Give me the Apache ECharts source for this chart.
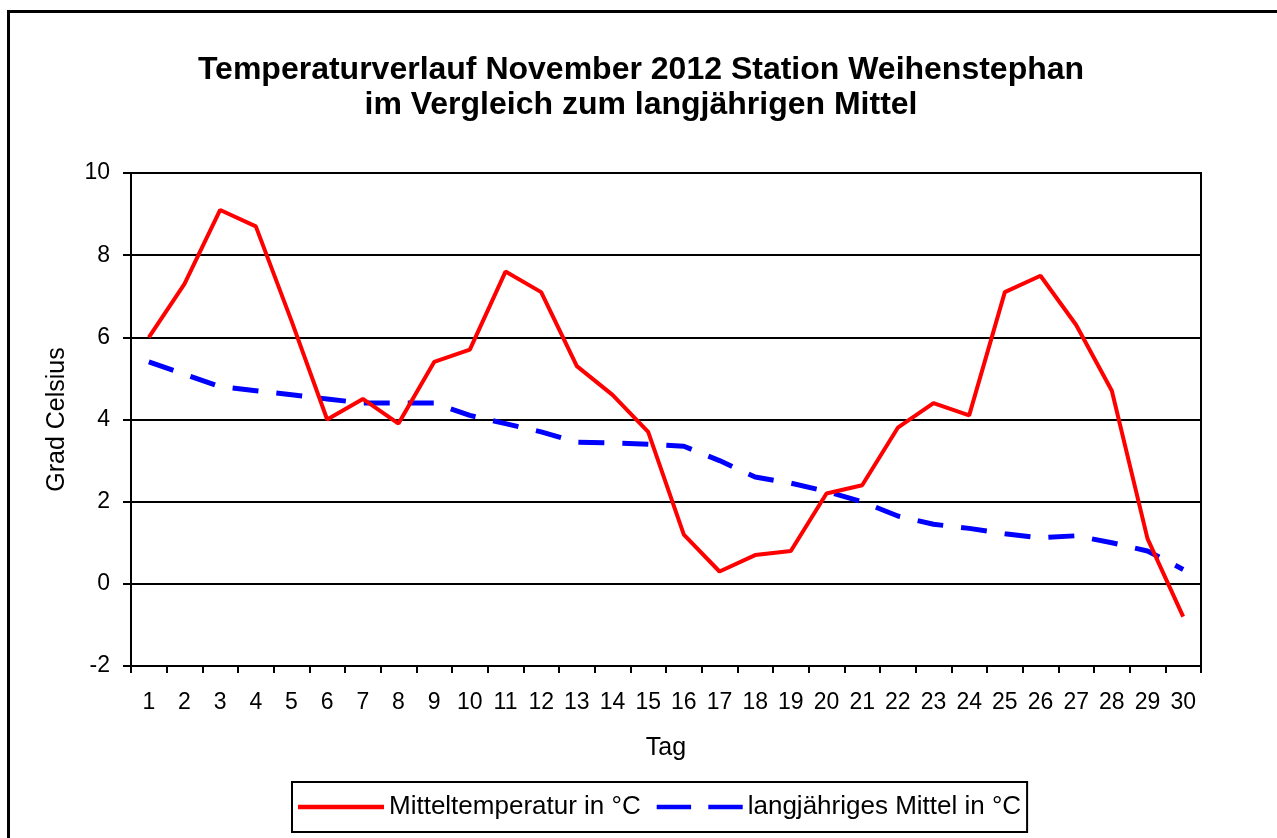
<!DOCTYPE html>
<html>
<head>
<meta charset="utf-8">
<script src="https://cdn.jsdelivr.net/npm/echarts@6/dist/echarts.min.js"></script>
<style>
html,body{margin:0;padding:0;background:#fff;}
#c{width:1277px;height:838px;}
</style>
</head>
<body>
<div id="c"></div>
<script>
const days = ['1','2','3','4','5','6','7','8','9','10','11','12','13','14','15','16','17','18','19','20','21','22','23','24','25','26','27','28','29','30'];
const mittelTemp = [6.0,7.3,9.1,8.7,6.4,4.0,4.5,3.9,5.4,5.7,7.6,7.1,5.3,4.6,3.7,1.2,0.3,0.7,0.8,2.2,2.4,3.8,4.4,4.1,7.1,7.5,6.3,4.7,1.1,-0.8];
const langMittel = [5.4,5.1,4.8,4.7,4.6,4.5,4.4,4.4,4.4,4.1,3.9,3.7,3.45,3.43,3.4,3.35,3.0,2.6,2.45,2.25,2.0,1.65,1.45,1.35,1.22,1.12,1.17,1.0,0.8,0.35];
const yTicks = [-2,0,2,4,6,8,10];
const seriesNames = ['Mitteltemperatur in °C','langjähriges Mittel in °C'];

const chart = echarts.init(document.getElementById('c'), null, {renderer:'canvas'});
const font = 'Liberation Sans, Arial, sans-serif';
chart.setOption({
  backgroundColor:'#fff',
  animation:false,
  title:{
    text:'Temperaturverlauf November 2012 Station Weihenstephan\nim Vergleich zum langjährigen Mittel',
    left:636, top:48, textAlign:'center',
    textStyle:{fontFamily:font, fontSize:32, fontWeight:'bold', color:'#000', lineHeight:35}
  },
  graphic:[
    {type:'rect', left:6, top:9, shape:{width:1300,height:900}, style:{fill:'none', stroke:'#000', lineWidth:3}, silent:true, z:-1}
  ],
  legend:{
    left:292, top:782,
    padding:[12,6,12,6],
    borderColor:'#000', borderWidth:2,
    itemWidth:86, itemHeight:5, itemGap:16,
    textStyle:{fontFamily:font, fontSize:26, color:'#000'},
    data:[
      {name:seriesNames[0], icon:'path://M0,0H80V4H0Z', itemStyle:{color:'#ff0000'}},
      {name:seriesNames[1], icon:'path://M0,0H32V4H0Z M48,0H80V4H48Z', itemStyle:{color:'#0000ff'}}
    ]
  },
  grid:{left:131, right:76, top:173, bottom:172, show:true, borderColor:'#000', borderWidth:2, backgroundColor:'#fff'},
  xAxis:{
    type:'category', data:days, boundaryGap:true,
    name:'Tag', nameLocation:'middle', nameGap:70,
    nameTextStyle:{fontFamily:font, fontSize:25, color:'#000'},
    axisLine:{onZero:false, lineStyle:{color:'#000', width:2}},
    axisTick:{show:true, inside:false, length:7, lineStyle:{color:'#000', width:2}, alignWithLabel:false},
    axisLabel:{fontFamily:font, fontSize:23, color:'#000', margin:25}
  },
  yAxis:{
    type:'value', min:-2, max:10, interval:2,
    name:'Grad Celsius', nameLocation:'middle', nameGap:61, nameRotate:90,
    nameTextStyle:{fontFamily:font, fontSize:25, color:'#000'},
    axisLine:{show:true, lineStyle:{color:'#000', width:2}},
    axisTick:{show:true, length:8, lineStyle:{color:'#000', width:2}},
    axisLabel:{fontFamily:font, fontSize:23, color:'#000', margin:21},
    splitLine:{show:true, lineStyle:{color:'#000', width:2}}
  },
  series:[
    {name:seriesNames[0], type:'line', data:mittelTemp, symbol:'none', lineStyle:{color:'#ff0000', width:4}, itemStyle:{color:'#ff0000'}, z:3},
    {name:seriesNames[1], type:'line', data:langMittel, symbol:'none', lineStyle:{color:'#0000ff', width:5, type:[26,18]}, itemStyle:{color:'#0000ff'}, z:2}
  ]
});
</script>
</body>
</html>
